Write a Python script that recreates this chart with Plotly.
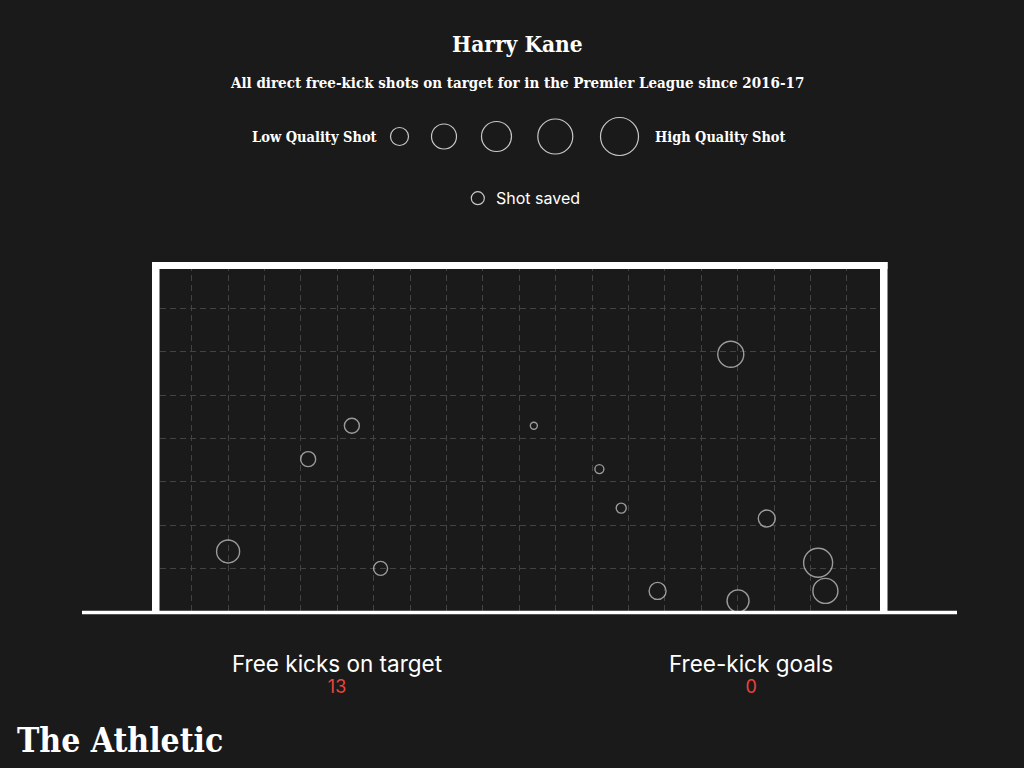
import plotly.graph_objects as go

# ---- data ----
shot_x = [1.00, 5.19, 3.20, 4.40, 9.40, 11.20, 11.80, 12.80, 15.01, 14.81, 15.80, 17.21, 17.41]
shot_y = [1.39, 1.00, 3.52, 4.29, 4.29, 3.29, 2.39, 0.48, 0.25, 5.94, 2.15, 1.13, 0.48]
shot_quality = [23, 14, 15, 15, 7, 9, 10, 17, 22, 26, 17, 29, 25]  # circle diameter units
legend_quality = [18, 25, 30, 35, 38]
stat_labels = ["Free kicks on target", "Free-kick goals"]
stat_values = [13, 0]

title = "Harry Kane"
subtitle = "All direct free-kick shots on target for in the Premier League since 2016-17"

BG = "#1a1a1a"
RED = "#e8453c"
W, H = 1024, 768


def fx(p):
    return p / W


def fy(p):
    return 1 - p / H


fig = go.Figure()
fig.add_trace(go.Scatter(
    x=shot_x, y=shot_y, mode="markers",
    marker=dict(symbol="circle-open", size=shot_quality, sizemode="diameter",
                color="#d2d2d2", line=dict(width=1.4, color="#d2d2d2")),
    hoverinfo="skip", showlegend=False,
))

grid = dict(showgrid=True, gridcolor="#434343", gridwidth=1, griddash="6px,4px",
            zeroline=False, showticklabels=False, ticks="", showline=False, fixedrange=True)

fig.update_layout(
    width=W, height=H, autosize=False,
    margin=dict(l=0, r=0, t=0, b=0),
    paper_bgcolor=BG, plot_bgcolor=BG,
    xaxis=dict(domain=[fx(160), fx(880)], range=[-0.871, 18.91], dtick=1, tick0=0, **grid),
    yaxis=dict(domain=[fy(611.7), fy(265)], range=[0, 8], dtick=1, tick0=0, **grid),
    showlegend=False,
)

shapes = []
white = "#ffffff"
# goal frame
for (x0, y0, x1, y1) in [(152, 262, 159.5, 612), (880, 262, 887.5, 612),
                         (152, 262, 887.5, 269), (82, 610.7, 957, 614.3)]:
    shapes.append(dict(type="rect", xref="paper", yref="paper",
                       x0=fx(x0), x1=fx(x1), y0=fy(y1), y1=fy(y0),
                       fillcolor=white, line=dict(width=0), layer="above"))

# size legend circles
legend_cx = [399.5, 444, 496.5, 555.3, 619.5]
for cx, q in zip(legend_cx, legend_quality):
    r = q / 2
    shapes.append(dict(type="circle", xref="paper", yref="paper",
                       xsizemode="pixel", ysizemode="pixel",
                       xanchor=fx(cx), yanchor=fy(136.5),
                       x0=-r, x1=r, y0=-r, y1=r,
                       line=dict(color="#c8c8c8", width=1.2), fillcolor="rgba(0,0,0,0)"))
r = 13 / 2
shapes.append(dict(type="circle", xref="paper", yref="paper",
                   xsizemode="pixel", ysizemode="pixel",
                   xanchor=fx(477.8), yanchor=fy(198.2),
                   x0=-r, x1=r, y0=-r, y1=r,
                   line=dict(color="#c8c8c8", width=1.2), fillcolor="rgba(0,0,0,0)"))
fig.update_layout(shapes=shapes)

SLAB = "DejaVu Serif Condensed, DejaVu Serif, serif"
SANS = "Inter, Roboto, sans-serif"


def ann(text, x, y, size, family, color="#ffffff", xanchor="center", weight="normal"):
    fig.add_annotation(text=text, x=fx(x), y=fy(y), xref="paper", yref="paper",
                       showarrow=False, xanchor=xanchor, yanchor="middle",
                       font=dict(size=size, family=family, color=color, weight=weight))


ann(title, 517, 44, 22.5, SLAB, weight="bold")
ann(subtitle, 517, 83, 15, SLAB, weight="bold")
ann("Low Quality Shot", 379, 137, 14.5, SLAB, xanchor="right", weight="bold")
ann("High Quality Shot", 653, 137, 14.4, SLAB, xanchor="left", weight="bold")
ann("Shot saved", 494, 198, 16, SANS, xanchor="left")
for cx, lab, val in zip([337, 751], stat_labels, stat_values):
    txt = (f"<span style='font-size:22.5px'>{lab}</span><br>"
           f"<span style='font-size:18px;fill:{RED}'>{val}</span>")
    ann(txt, cx, 673.5, 16, SANS)
ann("The Athletic", 15, 740, 33.4, SLAB, xanchor="left", weight="bold")

fig.write_html(
    "out.html",
    config={"displayModeBar": False},
    post_script="document.body.style.margin='0';document.body.style.background='#1a1a1a';",
)
